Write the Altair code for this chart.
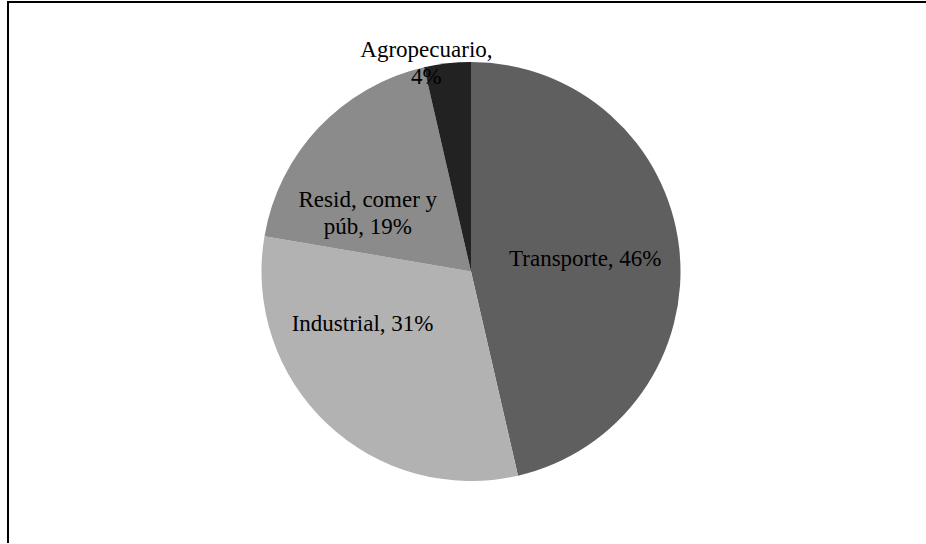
import altair as alt
import pandas as pd

sectors = ["Transporte", "Industrial", "Resid, comer y púb", "Agropecuario"]
shares = [46.4, 31.3, 18.7, 3.6]
labels = ["Transporte, 46%", "Industrial, 31%", "Resid, comer y\npúb, 19%", "Agropecuario,\n4%"]
colors = ["#5f5f5f", "#b2b2b2", "#8b8b8b", "#222222"]

df = pd.DataFrame({
    "idx": list(range(len(sectors))),
    "sector": sectors,
    "share": shares,
    "label": labels,
})

theta_scale = alt.Scale(domain=[0, 100])
FONT = "Liberation Serif"

pie = alt.Chart(df).mark_arc(outerRadius=209.5, stroke=None).encode(
    theta=alt.Theta("share:Q", stack=True, scale=theta_scale),
    order=alt.Order("idx:Q"),
    color=alt.Color("sector:N", scale=alt.Scale(domain=sectors, range=colors), legend=None),
)

# label placement: (radius, dx, dy) per label layer
placements = [(115, 0, 0), (120, -26, -35), (120, -16, 11), (200, -22, -23)]

text_layers = []
for i, (r, dx, dy) in enumerate(placements):
    t = alt.Chart(df).transform_window(
        cum="sum(share)", sort=[alt.SortField("idx")], frame=[None, 0]
    ).transform_calculate(
        mid="datum.cum - datum.share / 2"
    ).transform_filter(
        alt.datum.idx == i
    ).mark_text(
        radius=r, dx=dx, dy=dy, font=FONT, fontSize=23, color="black",
        lineBreak="\n", lineHeight=27, align="center", baseline="middle",
    ).encode(
        theta=alt.Theta("mid:Q", stack=None, scale=theta_scale),
        text="label:N",
    )
    text_layers.append(t)

frame = alt.Chart(alt.Data(values=[{}])).mark_rect(
    fillOpacity=0, stroke="black", strokeWidth=2
).encode(
    x=alt.value(-8), x2=alt.value(930), y=alt.value(2), y2=alt.value(544.5)
)

chart = alt.layer(pie, *text_layers, frame).properties(
    width=910, height=543,
    padding={"left": 16, "right": 0, "top": 0, "bottom": 0},
    autosize=alt.AutoSizeParams(type="none"),
    background="white",
).configure_view(stroke=None)

chart.save("out.html", embed_options={"renderer": "svg", "actions": False})
